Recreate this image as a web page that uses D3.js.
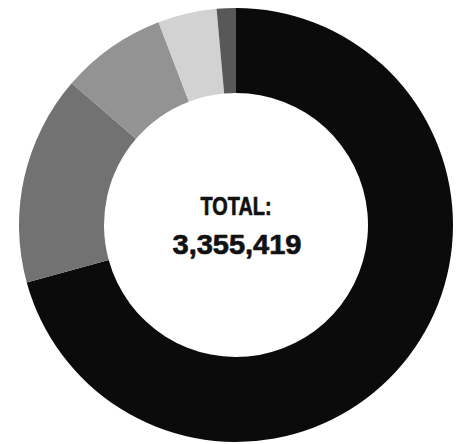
<!DOCTYPE html>
<html>
<head>
<meta charset="utf-8">
<script src="https://cdn.jsdelivr.net/npm/d3@7"></script>
<style>
  html, body { margin: 0; padding: 0; background: #fff; }
  svg { display: block; }
</style>
</head>
<body>
<svg id="chart" width="462" height="444"></svg>
<script>
// Segments, clockwise from 12 o'clock
const categories = ["Group 1", "Group 2", "Group 3", "Group 4", "Group 5"];
const values = [2373500, 523000, 264000, 147000, 47919];
const colors = ["#0b0b0b", "#727272", "#939393", "#d2d2d2", "#585858"];

const width = 462, height = 444;
const cx = 236, cy = 225;
const outerR = 217, innerR = 132;

const svg = d3.select("#chart");
const g = svg.append("g").attr("transform", `translate(${cx},${cy})`);

const data = categories.map((c, i) => ({ category: c, value: values[i] }));

const color = d3.scaleOrdinal().domain(categories).range(colors);

const pie = d3.pie().value(d => d.value).sort(null);
const arc = d3.arc().innerRadius(innerR).outerRadius(outerR);

g.selectAll("path")
  .data(pie(data))
  .join("path")
  .attr("d", arc)
  .attr("fill", d => color(d.data.category));

// Centre label with the summed total
const total = d3.sum(values);
const fmt = d3.format(",");

const label = (y, size, len, str, x) => g.append("text")
  .attr("x", x)
  .attr("y", y)
  .attr("text-anchor", "middle")
  .attr("font-family", "'Liberation Sans', Arial, sans-serif")
  .attr("font-weight", "bold")
  .attr("font-size", size)
  .attr("textLength", len)
  .attr("lengthAdjust", "spacingAndGlyphs")
  .attr("fill", "#111")
  .attr("stroke", "#111")
  .attr("stroke-width", 0.7)
  .attr("stroke-linejoin", "round")
  .text(str);

label(-10, 25.5, 71, "TOTAL:", 0);
label(28.5, 28.5, 129, fmt(total), 1);
</script>
</body>
</html>
